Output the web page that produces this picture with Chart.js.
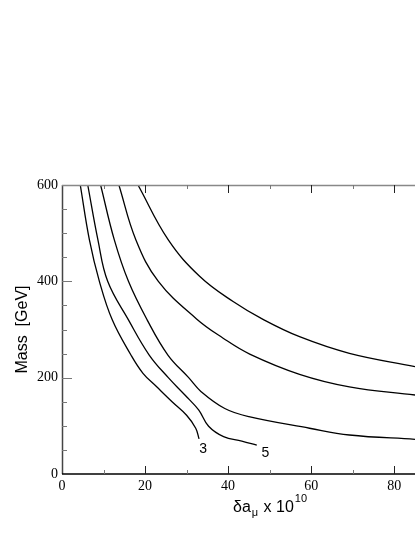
<!DOCTYPE html>
<html>
<head>
<meta charset="utf-8">
<script src="https://cdn.jsdelivr.net/npm/chart.js@4.4.1/dist/chart.umd.min.js"></script>
<style>
  html, body { margin: 0; padding: 0; background: #fff; }
  #wrap { width: 415px; height: 537px; }
</style>
</head>
<body>
<div id="wrap"><canvas id="massChart" width="415" height="537"></canvas></div>
<script>
// valores (δa_mu x 10^10 , massa em GeV)
const deltaA1 = [4.4, 6.6, 9.0, 12.1, 16.6, 19.5, 22.8, 26.5, 30.0, 32.2, 33.0];
const mass1   = [600, 486, 400, 320, 247, 209, 181, 150, 122, 95, 73];

const deltaA2 = [6.2, 8.65, 11.0, 16.0, 21.0, 25.6, 29.6, 32.9, 35.3, 38.9, 43.3, 46.9];
const mass2   = [600, 486, 400, 320, 247, 200, 164, 133, 99, 77.5, 68.5, 60];

const deltaA3 = [9.3, 12.6, 16.0, 20.5, 25.5, 30.5, 33.5, 39.2, 45.0, 59.6, 69.2, 85];
const mass3   = [600, 486, 400, 320, 247, 200, 171, 136, 119, 95, 81, 72];

const deltaA4 = [13.7, 17.8, 23.2, 32.4, 38.8, 45.2, 57.2, 69.2, 85];
const mass4   = [600, 486, 400, 322, 282, 249, 207, 181, 164];

const deltaA5 = [18.3, 25.6, 33.2, 41.2, 48.4, 57.2, 69.2, 85];
const mass5   = [600, 486, 410, 358, 321, 285, 250.5, 223];

// rótulos das curvas
const curveLabels = ['3', '5'];
const curveLabelX = [34.0, 49.0];
const curveLabelY = [52, 44];

// ticks dos eixos
const xTicks = [0, 20, 40, 60, 80];
const yTicks = [0, 200, 400, 600];

function toPoints(xs, ys) {
    return xs.map((x, i) => ({ x: x, y: ys[i] }));
}

function curve(xs, ys) {
    return {
        data: toPoints(xs, ys),
        borderColor: '#000',
        borderWidth: 1.3,
        pointRadius: 0,
        showLine: true,
        fill: false,
        tension: 0.4
    };
}

// desenha moldura, ticks para dentro, títulos e rótulos
const framePlugin = {
    id: 'frame',
    afterDraw(chart) {
        const ctx = chart.ctx;
        const area = chart.chartArea;
        const xs = chart.scales.x;
        const ys = chart.scales.y;
        ctx.save();

        // eixo esquerdo
        ctx.strokeStyle = '#444';
        ctx.lineWidth = 1.5;
        ctx.beginPath();
        ctx.moveTo(area.left + 0.5, area.top);
        ctx.lineTo(area.left + 0.5, area.bottom);
        ctx.stroke();

        // eixo superior
        ctx.strokeStyle = '#888';
        ctx.lineWidth = 1.5;
        ctx.beginPath();
        ctx.moveTo(area.left, area.top + 0.5);
        ctx.lineTo(area.right, area.top + 0.5);
        ctx.stroke();

        // eixo inferior
        ctx.strokeStyle = '#000';
        ctx.lineWidth = 1.5;
        ctx.beginPath();
        ctx.moveTo(area.left, area.bottom);
        ctx.lineTo(area.right, area.bottom);
        ctx.stroke();

        // ticks em x (baixo e cima)
        ctx.lineWidth = 1;
        for (let v = 10; v <= 80; v += 10) {
            const px = Math.round(xs.getPixelForValue(v)) + 0.5;
            const len = v % 20 === 0 ? 8 : 4;
            ctx.strokeStyle = v % 20 === 0 ? '#222' : '#777';
            ctx.beginPath();
            ctx.moveTo(px, area.bottom);
            ctx.lineTo(px, area.bottom - len);
            ctx.moveTo(px, area.top);
            ctx.lineTo(px, area.top + len);
            ctx.stroke();
        }

        // ticks em y
        ctx.strokeStyle = '#777';
        for (let v = 50; v < 600; v += 50) {
            const py = Math.round(ys.getPixelForValue(v)) + 0.5;
            const len = v % 200 === 0 ? 10 : 5;
            ctx.beginPath();
            ctx.moveTo(area.left, py);
            ctx.lineTo(area.left + len, py);
            ctx.stroke();
        }

        // rótulos das curvas
        ctx.fillStyle = '#000';
        ctx.font = '14px "Liberation Sans", Arial, sans-serif';
        ctx.textAlign = 'center';
        ctx.textBaseline = 'middle';
        curveLabels.forEach((txt, i) => {
            ctx.fillText(txt, xs.getPixelForValue(curveLabelX[i]), ys.getPixelForValue(curveLabelY[i]));
        });

        // título do eixo x: δa_μ x 10^10
        ctx.textAlign = 'left';
        ctx.textBaseline = 'alphabetic';
        let x0 = 233;
        const base = 512;
        ctx.font = '16px "Liberation Sans", Arial, sans-serif';
        ctx.fillText('δa', x0, base);
        x0 += ctx.measureText('δa').width;
        ctx.font = '11px "Liberation Sans", Arial, sans-serif';
        ctx.fillText('μ', x0 + 1, base + 4);
        x0 += ctx.measureText('μ').width + 2;
        ctx.font = '16px "Liberation Sans", Arial, sans-serif';
        ctx.fillText(' x 10', x0, base);
        x0 += ctx.measureText(' x 10').width;
        ctx.font = '11px "Liberation Sans", Arial, sans-serif';
        ctx.fillText('10', x0 + 1, base - 10);

        // título do eixo y
        ctx.save();
        ctx.translate(27, (area.top + area.bottom) / 2);
        ctx.rotate(-Math.PI / 2);
        ctx.font = '16px "Liberation Sans", Arial, sans-serif';
        ctx.textAlign = 'center';
        ctx.fillText('Mass  [GeV]', 0, 0);
        ctx.restore();

        ctx.restore();
    }
};

const ctx = document.getElementById('massChart').getContext('2d');
new Chart(ctx, {
    type: 'scatter',
    data: {
        datasets: [
            curve(deltaA1, mass1),
            curve(deltaA2, mass2),
            curve(deltaA3, mass3),
            curve(deltaA4, mass4),
            curve(deltaA5, mass5)
        ]
    },
    options: {
        responsive: false,
        maintainAspectRatio: false,
        animation: false,
        layout: { padding: { top: 185, left: 0, right: 0, bottom: 0 } },
        plugins: {
            legend: { display: false },
            tooltip: { enabled: false }
        },
        scales: {
            x: {
                type: 'linear',
                min: 0,
                max: 85,
                grid: { display: false, drawTicks: false },
                border: { display: false },
                afterBuildTicks: (scale) => { scale.ticks = xTicks.map(v => ({ value: v })); },
                afterFit: (scale) => { scale.height = 63; },
                ticks: {
                    autoSkip: false,
                    maxRotation: 0,
                    padding: 4,
                    color: '#000',
                    font: { family: '"Liberation Serif", "Times New Roman", serif', size: 14 }
                }
            },
            y: {
                type: 'linear',
                min: 0,
                max: 600,
                grid: { display: false, drawTicks: false },
                border: { display: false },
                afterBuildTicks: (scale) => { scale.ticks = yTicks.map(v => ({ value: v })); },
                afterFit: (scale) => { scale.width = 62; },
                ticks: {
                    autoSkip: false,
                    padding: 4,
                    color: '#000',
                    font: { family: '"Liberation Serif", "Times New Roman", serif', size: 14 }
                }
            }
        }
    },
    plugins: [framePlugin]
});
</script>
</body>
</html>
